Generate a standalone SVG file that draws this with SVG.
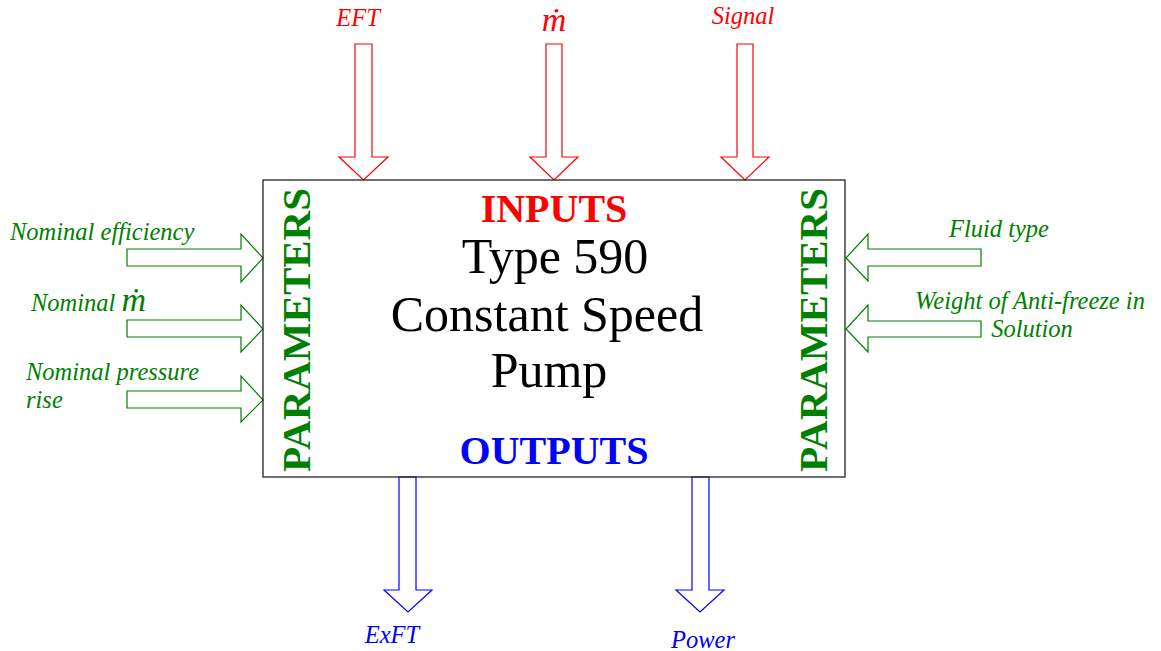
<svg xmlns="http://www.w3.org/2000/svg" width="1161" height="651" viewBox="0 0 1161 651">
<style>
.lab{font-family:"Liberation Serif","Times New Roman",serif;font-style:italic;font-size:24.5px}
.red{fill:#ff0000}.grn{fill:#008000}.blu{fill:#0000ff}
.ar{fill:#fff;stroke-width:1.2}
.ra{stroke:#ff0000}.ga{stroke:#008000}.ba{stroke:#0000ff}
.big{font-family:"Liberation Serif","Times New Roman",serif;font-size:50px;fill:#000;text-anchor:middle}
.hd{font-family:"Liberation Serif","Times New Roman",serif;font-weight:bold;font-size:40px;text-anchor:middle}
.par{font-family:"Liberation Serif","Times New Roman",serif;font-weight:bold;font-size:41px;fill:#008000;text-anchor:middle}
.md{font-size:34px}
</style>
<rect width="1161" height="651" fill="#fff"/>
<g id="connectors">
<polygon class="ar ra" points="355,44 372,44 372,157 388,157 363.5,180 339,157 355,157"/>
<polygon class="ar ra" points="546,44 562,44 562,157 578,157 554,180 530,157 546,157"/>
<polygon class="ar ra" points="737,44 753,44 753,157 769,157 745,180 721,157 737,157"/>
<polygon class="ar ga" points="127,249 241,249 241,234 263,258 241,282 241,266 127,266"/>
<polygon class="ar ga" points="127,320 241,320 241,305 263,329 241,352 241,337 127,337"/>
<polygon class="ar ga" points="127,391 241,391 241,376 263,400 241,422 241,408 127,408"/>
<polygon class="ar ga" points="981,249 868,249 868,234 846,258 868,281 868,266 981,266"/>
<polygon class="ar ga" points="981,321 868,321 868,305 846,329 868,352 868,337 981,337"/>
<polygon class="ar ba" points="399,477 416,477 416,590 432,590 408,612 384,590 399,590"/>
<polygon class="ar ba" points="692,477 709,477 709,590 724,590 700,612 676,590 692,590"/>
</g>
<g id="pump">
<rect x="263" y="180" width="582" height="297" fill="none" stroke="#222" stroke-width="1.3"/>
<text class="hd red" x="554" y="222">INPUTS</text>
<text class="big" x="555" y="273">Type 590</text>
<text class="big" x="547" y="331">Constant Speed</text>
<text class="big" x="549" y="387">Pump</text>
<text class="hd blu" x="554" y="464">OUTPUTS</text>
<text class="par" transform="translate(310,330) rotate(-90)">PARAMETERS</text>
<text class="par" transform="translate(827,330) rotate(-90)">PARAMETERS</text>
</g>
<g id="input-labels">
<text class="lab red" x="358" y="26" text-anchor="middle">EFT</text>
<text class="lab red md" x="554" y="31" text-anchor="middle">ṁ</text>
<text class="lab red" x="743" y="24" text-anchor="middle">Signal</text>
</g>
<g id="param-labels">
<text class="lab grn" x="10" y="240">Nominal efficiency</text>
<text class="lab grn" x="31" y="311">Nominal <tspan class="md">ṁ</tspan></text>
<text class="lab grn" x="26" y="380">Nominal pressure</text>
<text class="lab grn" x="26" y="408">rise</text>
<text class="lab grn" x="999" y="237" text-anchor="middle">Fluid type</text>
<text class="lab grn" x="1030" y="309" text-anchor="middle">Weight of Anti-freeze in</text>
<text class="lab grn" x="1032" y="337" text-anchor="middle">Solution</text>
</g>
<g id="output-labels">
<text class="lab blu" x="392" y="643" text-anchor="middle">ExFT</text>
<text class="lab blu" x="703" y="648" text-anchor="middle">Power</text>
</g>
</svg>
